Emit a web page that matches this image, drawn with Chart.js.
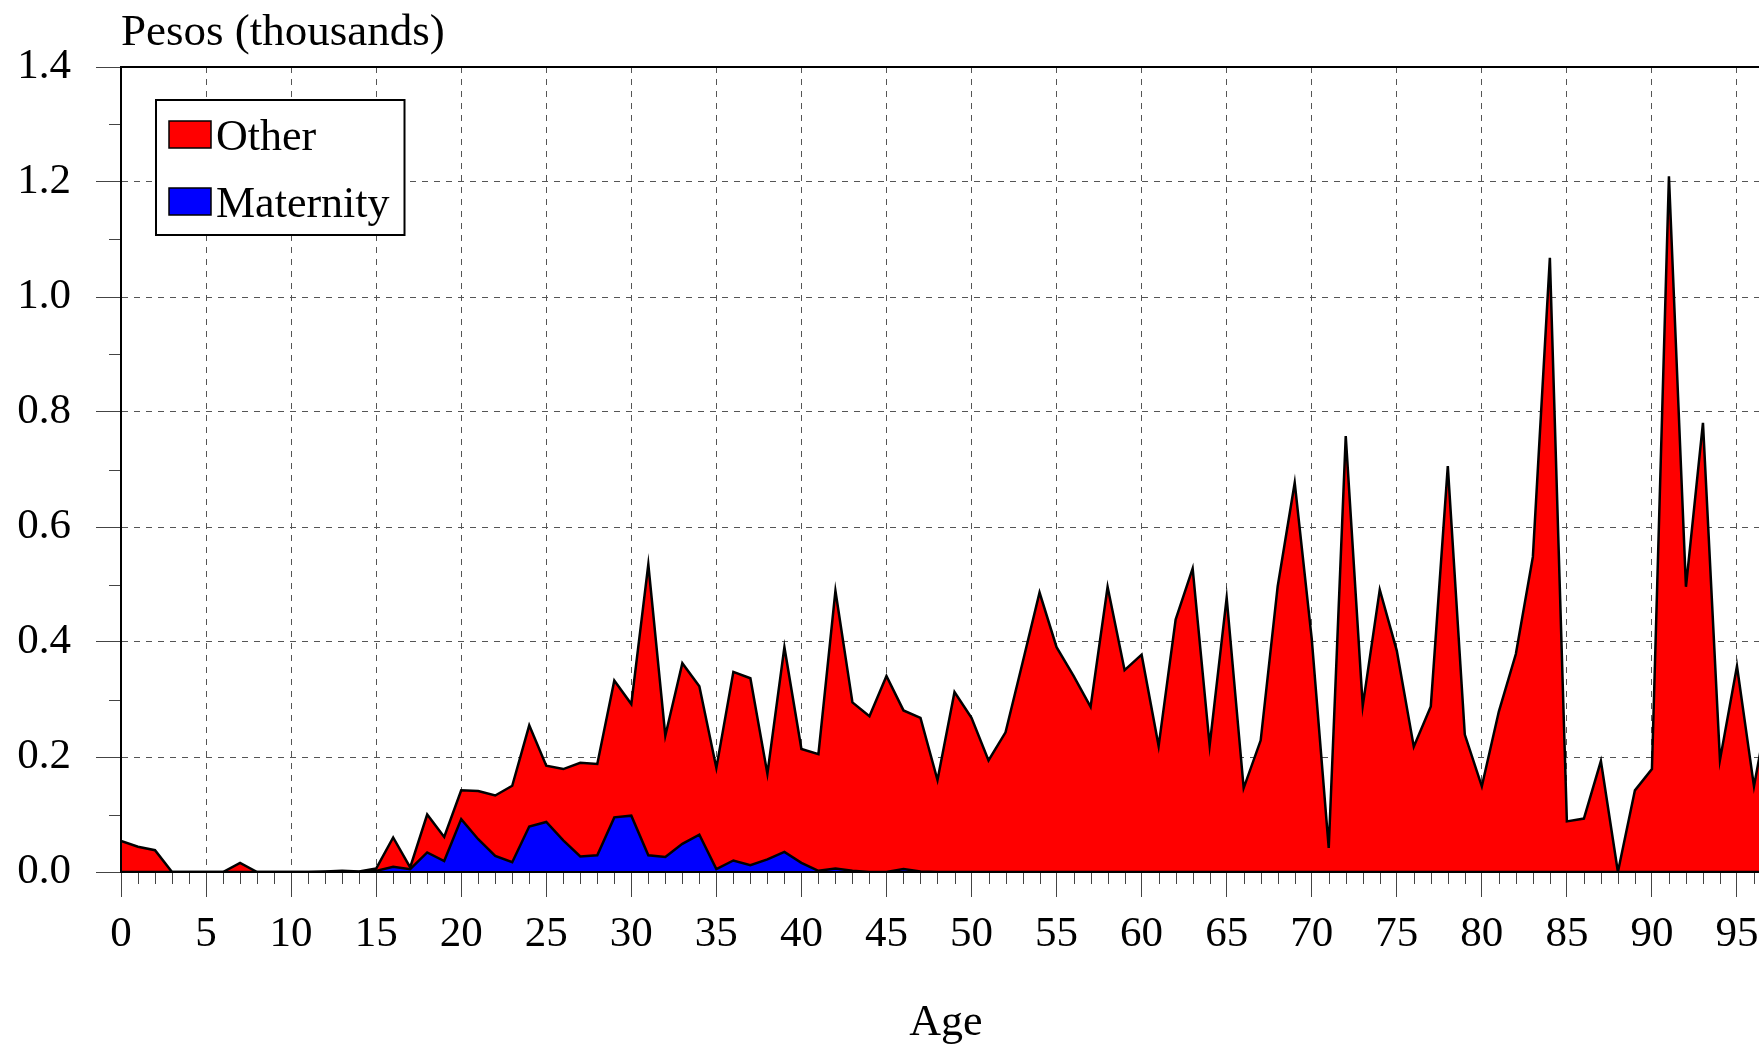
<!DOCTYPE html>
<html>
<head>
<meta charset="utf-8">
<script src="https://cdn.jsdelivr.net/npm/chart.js@4.4.1/dist/chart.umd.min.js"></script>
<style>
  html, body { margin: 0; padding: 0; background: #fff; overflow: hidden; }
  #wrap { width: 1780px; height: 1045px; }
</style>
</head>
<body>
<div id="wrap"><canvas id="chart" width="1780" height="1045"></canvas></div>
<script>
const ages = [
  0, 1, 2, 3, 4, 5, 6, 7, 8, 9, 10, 11, 12, 13, 14, 15, 16, 17, 18, 19,
  20, 21, 22, 23, 24, 25, 26, 27, 28, 29, 30, 31, 32, 33, 34, 35, 36, 37, 38, 39,
  40, 41, 42, 43, 44, 45, 46, 47, 48, 49, 50, 51, 52, 53, 54, 55, 56, 57, 58, 59,
  60, 61, 62, 63, 64, 65, 66, 67, 68, 69, 70, 71, 72, 73, 74, 75, 76, 77, 78, 79,
  80, 81, 82, 83, 84, 85, 86, 87, 88, 89, 90, 91, 92, 93, 94, 95, 96, 97
];

// thousands of pesos, bottom layer
const maternity = [
  0, 0, 0, 0, 0, 0, 0, 0, 0, 0, 0, 0, 0, 0, 0, 0.002, 0.009, 0.005, 0.034, 0.019,
  0.092, 0.057, 0.028, 0.017, 0.079, 0.087, 0.055, 0.027, 0.029, 0.095, 0.098, 0.029, 0.026, 0.049, 0.065, 0.005, 0.02, 0.012, 0.022, 0.035,
  0.016, 0.002, 0.006, 0.002, 0, 0, 0.005, 0.001, 0, 0, 0, 0, 0, 0, 0, 0, 0, 0, 0, 0,
  0, 0, 0, 0, 0, 0, 0, 0, 0, 0, 0, 0, 0, 0, 0, 0, 0, 0, 0, 0,
  0, 0, 0, 0, 0, 0, 0, 0, 0, 0, 0, 0, 0, 0, 0, 0, 0, 0
];

// thousands of pesos, stacked on top of maternity
const other = [
  0.054, 0.044, 0.038, 0, 0, 0, 0, 0.016, 0, 0, 0, 0, 0.001, 0.002, 0.001, 0.004, 0.051, 0.003, 0.066, 0.042,
  0.05, 0.084, 0.105, 0.133, 0.176, 0.098, 0.124, 0.163, 0.159, 0.238, 0.194, 0.506, 0.211, 0.314, 0.258, 0.176, 0.328, 0.325, 0.149, 0.356,
  0.198, 0.203, 0.483, 0.293, 0.271, 0.341, 0.276, 0.267, 0.16, 0.313, 0.268, 0.194, 0.243, 0.364, 0.486, 0.391, 0.341, 0.287, 0.496, 0.351,
  0.378, 0.219, 0.439, 0.528, 0.22, 0.477, 0.146, 0.229, 0.497, 0.677, 0.406, 0.042, 0.758, 0.289, 0.491, 0.385, 0.218, 0.288, 0.706, 0.239,
  0.149, 0.279, 0.379, 0.548, 1.068, 0.088, 0.093, 0.193, 0, 0.142, 0.179, 1.21, 0.496, 0.781, 0.195, 0.358, 0.149, 0.31
];

const xTicks = [0, 5, 10, 15, 20, 25, 30, 35, 40, 45, 50, 55, 60, 65, 70, 75, 80, 85, 90, 95];
const yTicks = [0, 0.2, 0.4, 0.6, 0.8, 1.0, 1.2, 1.4];
const yMinorTicks = [0.1, 0.3, 0.5, 0.7, 0.9, 1.1, 1.3];

const yAxisLabel = 'Pesos (thousands)';
const xAxisLabel = 'Age';

const FONT = "'Liberation Serif', 'Times New Roman', serif";

const framePlugin = {
  id: 'frame',
  afterDatasetsDraw(chart) {
    const { ctx, chartArea: a, scales: { x, y } } = chart;
    ctx.save();
    // minor ticks
    ctx.strokeStyle = '#444';
    ctx.lineWidth = 1;
    ctx.beginPath();
    ages.forEach(v => {
      if (xTicks.includes(v)) return;
      const px = Math.round(x.getPixelForValue(v)) + 0.5;
      ctx.moveTo(px, a.bottom);
      ctx.lineTo(px, a.bottom + 12);
    });
    yMinorTicks.forEach(v => {
      const py = Math.round(y.getPixelForValue(v)) + 0.5;
      ctx.moveTo(a.left - 12, py);
      ctx.lineTo(a.left, py);
    });
    ctx.stroke();

    // top and right border
    ctx.strokeStyle = '#000';
    ctx.lineWidth = 2;
    ctx.beginPath();
    ctx.moveTo(a.left, a.top);
    ctx.lineTo(a.right, a.top);
    ctx.lineTo(a.right, a.bottom);
    ctx.stroke();

    // y axis caption above the plot
    ctx.fillStyle = '#000';
    ctx.font = '45px ' + FONT;
    ctx.textBaseline = 'alphabetic';
    ctx.textAlign = 'left';
    ctx.fillText(yAxisLabel, a.left, 45);
    ctx.restore();
  },
  afterDraw(chart) {
    const { ctx, chartArea: a } = chart;
    const items = chart.data.datasets.slice().reverse();
    ctx.save();
    ctx.font = '44px ' + FONT;
    const textW = Math.max(...items.map(d => ctx.measureText(d.label).width));
    const bx = a.left + 35, by = a.top + 33;
    const bw = 60 + textW + 15, bh = 135;
    ctx.fillStyle = '#fff';
    ctx.fillRect(bx, by, bw, bh);
    ctx.strokeStyle = '#000';
    ctx.lineWidth = 2;
    ctx.strokeRect(bx, by, bw, bh);
    items.forEach((d, i) => {
      const sy = by + 21 + i * 67;
      ctx.fillStyle = d.backgroundColor;
      ctx.fillRect(bx + 13, sy, 42, 27);
      ctx.lineWidth = 1.5;
      ctx.strokeRect(bx + 13, sy, 42, 27);
      ctx.fillStyle = '#000';
      ctx.textBaseline = 'alphabetic';
      ctx.fillText(d.label, bx + 60, by + 50 + i * 67);
    });
    ctx.restore();
  }
};

new Chart(document.getElementById('chart'), {
  type: 'line',
  data: {
    labels: ages,
    datasets: [
      {
        label: 'Maternity',
        data: maternity,
        backgroundColor: '#0000ff',
        borderColor: '#000',
        borderWidth: 2.5,
        fill: 'origin',
        pointRadius: 0,
        tension: 0
      },
      {
        label: 'Other',
        data: other,
        backgroundColor: '#ff0000',
        borderColor: '#000',
        borderWidth: 2.5,
        fill: '-1',
        pointRadius: 0,
        tension: 0
      }
    ]
  },
  options: {
    responsive: false,
    animation: false,
    layout: { padding: { top: 67, right: 9, left: 0, bottom: 0 } },
    plugins: {
      legend: { display: false },
      tooltip: { enabled: false }
    },
    scales: {
      x: {
        type: 'linear',
        min: 0,
        max: 97,
        afterBuildTicks: s => { s.ticks = xTicks.map(v => ({ value: v })); },
        afterFit: s => { s.height = 173; },
        ticks: {
          autoSkip: false,
          maxRotation: 0,
          padding: 12,
          color: '#000',
          font: { family: FONT, size: 43 },
          callback: v => String(v)
        },
        grid: { color: '#555', lineWidth: 1, tickLength: 25, tickColor: '#444', tickWidth: 1 },
        border: { color: '#000', width: 2, dash: [6, 6], z: 1 },
        title: {
          display: true,
          text: xAxisLabel,
          color: '#000',
          font: { family: FONT, size: 44, lineHeight: 1.0 },
          padding: { top: 0, bottom: 0 }
        }
      },
      y: {
        stacked: true,
        min: 0,
        max: 1.4,
        afterBuildTicks: s => { s.ticks = yTicks.map(v => ({ value: v })); },
        afterFit: s => { s.width = 121; },
        ticks: {
          padding: 25,
          color: '#000',
          font: { family: FONT, size: 43 },
          callback: v => v.toFixed(1)
        },
        grid: { color: '#555', lineWidth: 1, tickLength: 25, tickColor: '#444', tickWidth: 1 },
        border: { color: '#000', width: 2, dash: [6, 6], z: 1 }
      }
    }
  },
  plugins: [framePlugin]
});
</script>
</body>
</html>
